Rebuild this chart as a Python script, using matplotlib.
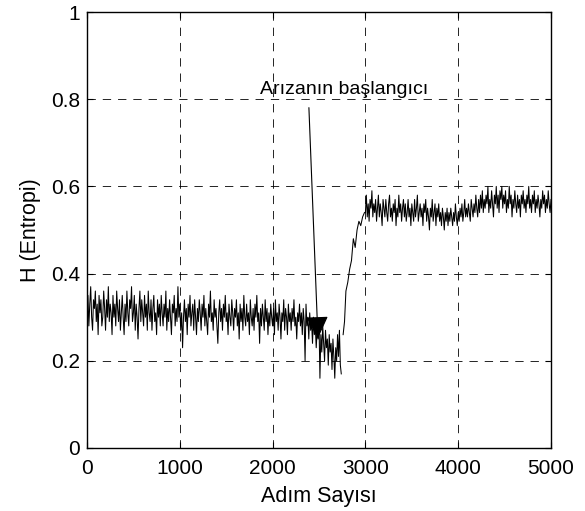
import matplotlib
matplotlib.use('Agg')
import matplotlib.pyplot as plt
import numpy as np

plt.rcParams['font.family'] = ['Liberation Sans', 'DejaVu Sans']
plt.rcParams['lines.scale_dashes'] = False

# entropy before the fault (step 0 .. 2740, every 10 steps)
steps_before = np.arange(0, 2741, 10)
h_before = [
    0.31, 0.35, 0.28, 0.33, 0.37, 0.30, 0.27, 0.34, 0.32, 0.36,
    0.29, 0.33, 0.26, 0.35, 0.31, 0.34, 0.28, 0.30, 0.36, 0.32,
    0.27, 0.34, 0.30, 0.37, 0.29, 0.33, 0.31, 0.26, 0.35, 0.30,
    0.33, 0.28, 0.36, 0.32, 0.29, 0.34, 0.27, 0.31, 0.35, 0.30,
    0.26, 0.33, 0.29, 0.36, 0.31, 0.28, 0.34, 0.32, 0.37, 0.29,
    0.31, 0.35, 0.27, 0.33, 0.30, 0.25, 0.32, 0.36, 0.29, 0.34,
    0.31, 0.28, 0.35, 0.30, 0.33, 0.27, 0.36, 0.31, 0.29, 0.34,
    0.27, 0.32, 0.35, 0.29, 0.31, 0.26, 0.34, 0.30, 0.33, 0.28,
    0.35, 0.31, 0.28, 0.33, 0.30, 0.36, 0.27, 0.32, 0.29, 0.34,
    0.30, 0.26, 0.33, 0.31, 0.35, 0.28, 0.32, 0.29, 0.37, 0.30,
    0.33, 0.27, 0.31, 0.23, 0.30, 0.34, 0.29, 0.32, 0.26, 0.33,
    0.30, 0.35, 0.28, 0.31, 0.33, 0.27, 0.34, 0.30, 0.26, 0.32,
    0.29, 0.34, 0.31, 0.27, 0.33, 0.30, 0.35, 0.28, 0.32, 0.29,
    0.26, 0.33, 0.30, 0.36, 0.29, 0.31, 0.27, 0.34, 0.30, 0.32,
    0.28, 0.24, 0.31, 0.34, 0.29, 0.32, 0.27, 0.33, 0.30, 0.35,
    0.29, 0.31, 0.26, 0.33, 0.30, 0.28, 0.34, 0.31, 0.27, 0.32,
    0.30, 0.34, 0.28, 0.31, 0.25, 0.33, 0.29, 0.32, 0.27, 0.35,
    0.30, 0.28, 0.33, 0.29, 0.31, 0.26, 0.34, 0.30, 0.28, 0.32,
    0.27, 0.33, 0.30, 0.35, 0.29, 0.31, 0.24, 0.32, 0.28, 0.33,
    0.30, 0.27, 0.34, 0.29, 0.32, 0.26, 0.31, 0.28, 0.33, 0.30,
    0.28, 0.32, 0.26, 0.34, 0.29, 0.31, 0.27, 0.33, 0.30, 0.25,
    0.31, 0.29, 0.34, 0.27, 0.32, 0.30, 0.26, 0.33, 0.29, 0.31,
    0.27, 0.32, 0.29, 0.34, 0.28, 0.30, 0.25, 0.31, 0.29, 0.33,
    0.28, 0.31, 0.26, 0.32, 0.29, 0.20, 0.33, 0.28, 0.30, 0.25,
    0.31, 0.27, 0.29, 0.24, 0.30, 0.26, 0.28, 0.23, 0.27, 0.25,
    0.29, 0.16, 0.26, 0.22, 0.28, 0.24, 0.20, 0.27, 0.23, 0.25,
    0.19, 0.26, 0.22, 0.24, 0.18, 0.25, 0.21, 0.16, 0.23, 0.20,
    0.26, 0.21, 0.27, 0.19, 0.17,
]

# transition
steps_rise = [2760, 2775, 2790, 2810, 2830, 2850, 2870, 2890, 2910, 2930, 2950, 2970, 2990]
h_rise = [0.26, 0.29, 0.36, 0.38, 0.41, 0.43, 0.48, 0.46, 0.50, 0.52, 0.51, 0.53, 0.54]

# after the fault (step 3000 .. 5000, every 10 steps)
steps_after = np.arange(3000, 5001, 10)
h_after = [
    0.54, 0.58, 0.53, 0.56, 0.52, 0.57, 0.55, 0.59, 0.53, 0.56,
    0.54, 0.57, 0.52, 0.55, 0.58, 0.53, 0.56, 0.54, 0.51, 0.57,
    0.55, 0.53, 0.57, 0.54, 0.52, 0.56, 0.58, 0.53, 0.55, 0.52,
    0.56, 0.54, 0.57, 0.51, 0.55, 0.53, 0.58, 0.54, 0.56, 0.52,
    0.55, 0.57, 0.53, 0.56, 0.52, 0.54, 0.57, 0.53, 0.55, 0.51,
    0.56, 0.54, 0.52, 0.57, 0.53, 0.55, 0.58, 0.52, 0.54, 0.56,
    0.53, 0.55, 0.51, 0.56, 0.54, 0.57, 0.52, 0.55, 0.53, 0.50,
    0.55, 0.53, 0.57, 0.52, 0.54, 0.56, 0.51, 0.55, 0.53, 0.56,
    0.52, 0.54, 0.51, 0.55, 0.53, 0.50, 0.54, 0.52, 0.55, 0.51,
    0.54, 0.52, 0.55, 0.53, 0.51, 0.54, 0.52, 0.56, 0.53, 0.51,
    0.54, 0.52, 0.55, 0.53, 0.56, 0.52, 0.54, 0.57, 0.53, 0.55,
    0.53, 0.56, 0.54, 0.52, 0.57, 0.55, 0.53, 0.56, 0.54, 0.58,
    0.55, 0.53, 0.57, 0.54, 0.58, 0.55, 0.59, 0.54, 0.57, 0.55,
    0.58, 0.56, 0.60, 0.54, 0.57, 0.55, 0.59, 0.56, 0.53, 0.58,
    0.56, 0.60, 0.55, 0.58, 0.54, 0.59, 0.57, 0.60, 0.55, 0.58,
    0.56, 0.59, 0.54, 0.57, 0.55, 0.60, 0.56, 0.58, 0.53, 0.57,
    0.55, 0.59, 0.56, 0.54, 0.58, 0.55, 0.57, 0.53, 0.58, 0.56,
    0.59, 0.55, 0.57, 0.54, 0.58, 0.56, 0.60, 0.55, 0.57, 0.54,
    0.58, 0.56, 0.59, 0.54, 0.57, 0.55, 0.58, 0.56, 0.53, 0.57,
    0.55, 0.59, 0.56, 0.58, 0.54, 0.57, 0.55, 0.59, 0.56, 0.54,
    0.57,
]

fig = plt.figure(figsize=(5.85, 5.11), dpi=100)
ax = fig.add_axes([0.1487, 0.1233, 0.7932, 0.8532])

for xs, ys in [(steps_before, h_before), (steps_rise, h_rise), (steps_after, h_after)]:
    ax.plot(xs, ys, color='k', lw=0.75)

ax.set_xlim(0, 5000)
ax.set_ylim(0, 1)
ax.set_xticks([0, 1000, 2000, 3000, 4000, 5000])
ax.set_yticks([0, 0.2, 0.4, 0.6, 0.8, 1])
ax.set_yticklabels(['0', '0.2', '0.4', '0.6', '0.8', '1'])
ax.tick_params(direction='in', length=4, top=True, right=True, labelsize=15)
ax.tick_params(axis='x', pad=8)
ax.tick_params(axis='y', pad=5)
ax.grid(True, color='k', linestyle=(0, (6, 5)), linewidth=0.6)
for s in ax.spines.values():
    s.set_linewidth(1.0)

ax.set_xlabel('Adım Sayısı', fontsize=15.5, labelpad=6)
ax.set_ylabel('H (Entropi)', fontsize=15.5, labelpad=7)

ax.text(2770, 0.823, 'Arızanın başlangıcı', fontsize=14, ha='center', va='center')
ax.annotate('', xy=(2490, 0.245), xytext=(2390, 0.787),
            arrowprops=dict(arrowstyle='-|>,head_length=1.4,head_width=0.7',
                            color='k', lw=0.8, mutation_scale=10))

fig.savefig('out.png', dpi=100)
